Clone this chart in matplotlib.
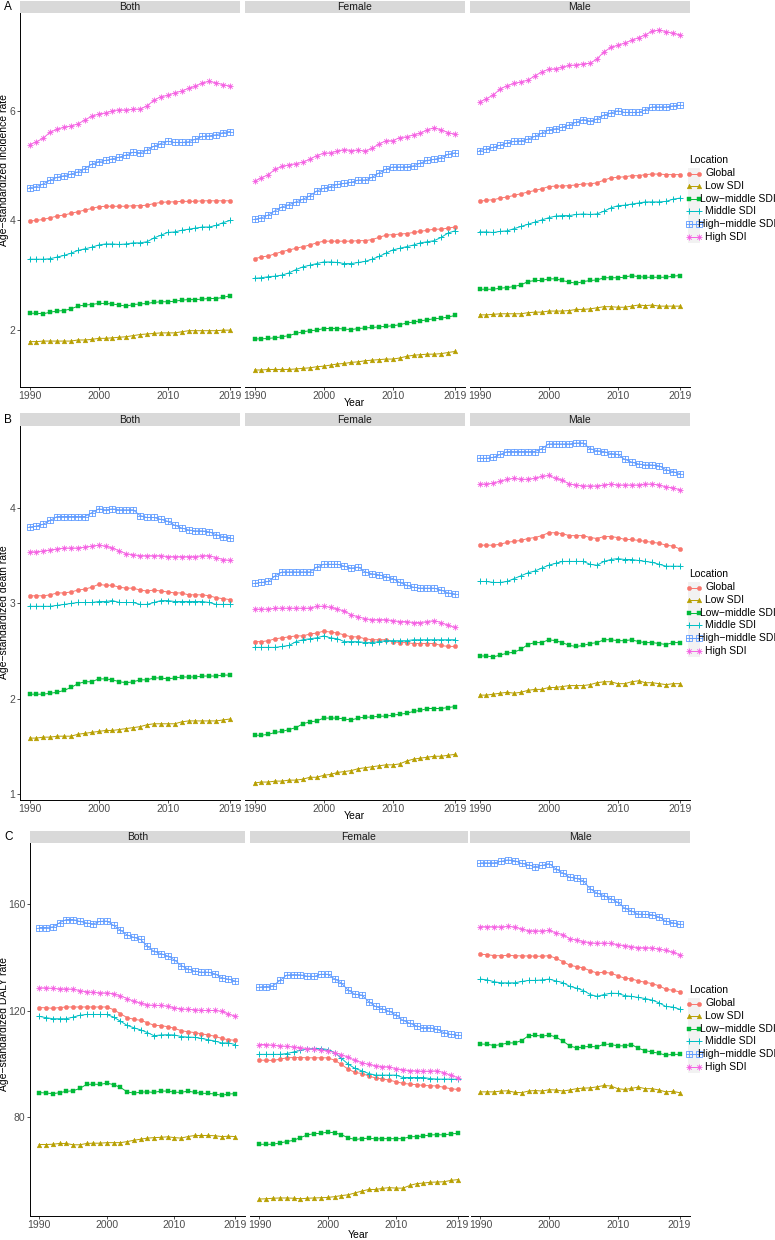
import matplotlib
matplotlib.use("Agg")
import matplotlib.pyplot as plt
from matplotlib.path import Path
import numpy as np

plt.rcParams['font.family'] = ['Liberation Sans', 'DejaVu Sans']

years = list(range(1990, 2020))
locations = ["Global", "Low SDI", "Low\u2212middle SDI", "Middle SDI", "High\u2212middle SDI", "High SDI"]
sexes = ["Both", "Female", "Male"]
x_ticks = [1990, 2000, 2010, 2019]

# ---------------- A: incidence ----------------
inc_both_global = [3.99,4.00,4.02,4.05,4.08,4.10,4.13,4.16,4.19,4.22,4.25,4.26,4.26,4.26,4.26,4.27,4.27,4.28,4.31,4.33,4.34,4.34,4.35,4.35,4.35,4.36,4.36,4.36,4.36,4.36]
inc_both_low = [1.78,1.78,1.79,1.79,1.79,1.79,1.79,1.81,1.81,1.82,1.84,1.84,1.85,1.86,1.87,1.89,1.91,1.92,1.93,1.94,1.94,1.94,1.96,1.98,1.98,1.98,1.98,1.98,1.99,1.99]
inc_both_lm = [2.30,2.30,2.29,2.32,2.34,2.35,2.38,2.43,2.45,2.46,2.48,2.48,2.47,2.45,2.43,2.46,2.47,2.48,2.50,2.51,2.51,2.52,2.54,2.55,2.55,2.56,2.57,2.57,2.59,2.62]
inc_both_mid = [3.29,3.29,3.29,3.30,3.33,3.36,3.40,3.45,3.48,3.51,3.55,3.57,3.57,3.56,3.57,3.59,3.59,3.61,3.68,3.73,3.78,3.79,3.82,3.84,3.86,3.88,3.88,3.91,3.96,4.00]
inc_both_hm = [4.60,4.62,4.67,4.74,4.79,4.82,4.85,4.89,4.95,5.03,5.08,5.10,5.13,5.16,5.20,5.25,5.24,5.29,5.36,5.41,5.45,5.43,5.43,5.44,5.49,5.54,5.55,5.57,5.61,5.63]
inc_both_high = [5.39,5.44,5.51,5.62,5.67,5.71,5.73,5.77,5.84,5.91,5.95,5.97,6.01,6.03,6.02,6.04,6.04,6.10,6.20,6.27,6.29,6.34,6.37,6.42,6.46,6.52,6.55,6.52,6.49,6.46]

inc_female_global = [3.30,3.33,3.35,3.39,3.43,3.46,3.49,3.52,3.55,3.59,3.62,3.62,3.62,3.62,3.62,3.63,3.63,3.65,3.69,3.73,3.74,3.75,3.76,3.78,3.80,3.82,3.84,3.84,3.86,3.88]
inc_female_low = [1.26,1.26,1.27,1.27,1.27,1.27,1.28,1.29,1.30,1.32,1.33,1.35,1.37,1.38,1.40,1.41,1.43,1.44,1.45,1.46,1.46,1.48,1.51,1.53,1.54,1.55,1.55,1.56,1.58,1.60]
inc_female_lm = [1.83,1.83,1.84,1.85,1.87,1.89,1.93,1.96,1.98,1.99,2.02,2.02,2.02,2.01,2.00,2.02,2.03,2.04,2.05,2.06,2.07,2.09,2.12,2.14,2.16,2.18,2.20,2.21,2.23,2.26]
inc_female_mid = [2.94,2.95,2.97,2.98,3.00,3.04,3.10,3.15,3.18,3.21,3.24,3.24,3.23,3.21,3.21,3.23,3.25,3.29,3.34,3.40,3.46,3.49,3.52,3.55,3.59,3.61,3.63,3.69,3.77,3.81]
inc_female_hm = [4.02,4.05,4.10,4.18,4.25,4.29,4.34,4.39,4.45,4.54,4.59,4.62,4.66,4.68,4.70,4.74,4.74,4.79,4.87,4.94,4.98,4.98,4.98,5.00,5.05,5.10,5.12,5.15,5.21,5.24]
inc_female_high = [4.72,4.78,4.84,4.94,4.99,5.02,5.04,5.07,5.12,5.19,5.23,5.24,5.27,5.30,5.28,5.29,5.27,5.32,5.40,5.46,5.46,5.52,5.53,5.57,5.60,5.66,5.70,5.66,5.61,5.58]

inc_male_global = [4.35,4.37,4.38,4.41,4.43,4.46,4.49,4.52,4.55,4.58,4.62,4.63,4.63,4.64,4.65,4.67,4.67,4.69,4.74,4.78,4.79,4.80,4.82,4.82,4.84,4.85,4.85,4.84,4.84,4.84]
inc_male_low = [2.27,2.27,2.28,2.29,2.29,2.29,2.29,2.31,2.32,2.32,2.34,2.34,2.34,2.35,2.37,2.37,2.38,2.40,2.42,2.42,2.41,2.41,2.43,2.45,2.44,2.45,2.43,2.43,2.43,2.43]
inc_male_lm = [2.74,2.74,2.74,2.76,2.77,2.79,2.82,2.88,2.90,2.90,2.93,2.93,2.90,2.87,2.85,2.88,2.90,2.91,2.95,2.95,2.95,2.96,2.99,2.97,2.96,2.96,2.96,2.96,2.98,2.99]
inc_male_mid = [3.79,3.79,3.78,3.80,3.81,3.85,3.89,3.93,3.97,4.01,4.05,4.08,4.09,4.09,4.11,4.12,4.11,4.12,4.17,4.23,4.27,4.28,4.30,4.32,4.34,4.34,4.34,4.35,4.39,4.41]
inc_male_hm = [5.28,5.31,5.34,5.38,5.42,5.45,5.46,5.49,5.54,5.60,5.66,5.68,5.71,5.75,5.80,5.85,5.82,5.86,5.93,5.97,6.01,5.98,5.98,5.98,6.03,6.08,6.08,6.08,6.10,6.11]
inc_male_high = [6.17,6.23,6.30,6.41,6.47,6.51,6.54,6.57,6.65,6.72,6.77,6.78,6.81,6.84,6.85,6.87,6.88,6.96,7.09,7.17,7.21,7.25,7.30,7.35,7.40,7.47,7.49,7.46,7.43,7.40]

# ---------------- B: death ----------------
dth_both_global = [3.08,3.08,3.08,3.09,3.11,3.11,3.12,3.14,3.15,3.17,3.20,3.19,3.19,3.17,3.16,3.16,3.14,3.13,3.14,3.13,3.12,3.11,3.11,3.09,3.09,3.09,3.08,3.06,3.05,3.04]
dth_both_low = [1.59,1.59,1.60,1.60,1.61,1.61,1.61,1.63,1.64,1.65,1.66,1.67,1.67,1.68,1.69,1.70,1.71,1.73,1.74,1.74,1.74,1.74,1.76,1.77,1.77,1.77,1.77,1.77,1.78,1.79]
dth_both_lm = [2.05,2.05,2.05,2.06,2.07,2.09,2.12,2.16,2.18,2.18,2.21,2.21,2.20,2.18,2.17,2.18,2.20,2.20,2.22,2.22,2.21,2.22,2.23,2.23,2.23,2.24,2.24,2.24,2.25,2.25]
dth_both_mid = [2.97,2.97,2.97,2.97,2.98,2.99,3.00,3.01,3.01,3.01,3.02,3.02,3.03,3.01,3.01,3.01,2.99,2.99,3.01,3.03,3.03,3.02,3.02,3.02,3.02,3.02,3.01,2.99,2.99,2.99]
dth_both_hm = [3.80,3.81,3.83,3.87,3.91,3.91,3.91,3.91,3.91,3.95,3.99,3.98,3.99,3.98,3.98,3.98,3.92,3.90,3.90,3.88,3.86,3.82,3.79,3.77,3.76,3.76,3.75,3.72,3.70,3.69]
dth_both_high = [3.54,3.54,3.55,3.56,3.57,3.58,3.58,3.58,3.59,3.60,3.61,3.60,3.58,3.55,3.52,3.51,3.50,3.50,3.50,3.50,3.49,3.49,3.49,3.49,3.49,3.50,3.50,3.48,3.46,3.45]

dth_female_global = [2.60,2.60,2.61,2.63,2.64,2.65,2.66,2.66,2.68,2.69,2.71,2.70,2.69,2.67,2.65,2.65,2.63,2.62,2.62,2.62,2.60,2.59,2.59,2.58,2.58,2.58,2.58,2.56,2.55,2.55]
dth_female_low = [1.12,1.13,1.13,1.14,1.14,1.15,1.15,1.16,1.18,1.18,1.20,1.21,1.23,1.24,1.25,1.27,1.28,1.29,1.30,1.31,1.31,1.32,1.35,1.37,1.38,1.39,1.40,1.40,1.41,1.42]
dth_female_lm = [1.62,1.62,1.63,1.65,1.66,1.68,1.70,1.74,1.76,1.77,1.80,1.80,1.80,1.79,1.78,1.80,1.81,1.81,1.82,1.82,1.83,1.84,1.85,1.87,1.88,1.90,1.90,1.90,1.91,1.92]
dth_female_mid = [2.54,2.54,2.54,2.54,2.55,2.56,2.60,2.62,2.63,2.64,2.66,2.64,2.63,2.60,2.60,2.60,2.59,2.59,2.60,2.61,2.61,2.61,2.61,2.62,2.62,2.62,2.62,2.62,2.62,2.62]
dth_female_hm = [3.21,3.22,3.23,3.29,3.33,3.33,3.33,3.33,3.33,3.38,3.41,3.41,3.41,3.39,3.37,3.38,3.33,3.31,3.30,3.28,3.26,3.22,3.19,3.17,3.16,3.16,3.16,3.14,3.11,3.10]
dth_female_high = [2.94,2.94,2.94,2.95,2.95,2.95,2.95,2.95,2.95,2.97,2.97,2.96,2.94,2.92,2.88,2.86,2.84,2.83,2.83,2.83,2.82,2.81,2.81,2.80,2.80,2.81,2.82,2.80,2.77,2.75]

dth_male_global = [3.61,3.61,3.61,3.62,3.64,3.65,3.66,3.68,3.69,3.71,3.74,3.74,3.73,3.71,3.71,3.71,3.69,3.68,3.70,3.70,3.69,3.67,3.67,3.66,3.65,3.64,3.63,3.61,3.60,3.57]
dth_male_low = [2.04,2.04,2.05,2.06,2.07,2.06,2.07,2.09,2.10,2.10,2.12,2.12,2.13,2.14,2.14,2.14,2.15,2.17,2.18,2.18,2.16,2.16,2.18,2.19,2.17,2.17,2.16,2.15,2.16,2.16]
dth_male_lm = [2.45,2.45,2.44,2.46,2.48,2.49,2.52,2.57,2.59,2.59,2.62,2.61,2.59,2.56,2.55,2.56,2.58,2.59,2.62,2.62,2.61,2.61,2.62,2.60,2.59,2.59,2.58,2.57,2.59,2.59]
dth_male_mid = [3.23,3.23,3.22,3.22,3.23,3.26,3.29,3.32,3.34,3.37,3.40,3.42,3.44,3.44,3.44,3.44,3.41,3.40,3.44,3.46,3.47,3.46,3.46,3.45,3.44,3.43,3.41,3.39,3.39,3.39]
dth_male_hm = [4.52,4.52,4.53,4.56,4.59,4.59,4.59,4.59,4.59,4.62,4.67,4.67,4.67,4.67,4.68,4.68,4.62,4.60,4.59,4.57,4.56,4.51,4.48,4.46,4.45,4.45,4.44,4.40,4.38,4.36]
dth_male_high = [4.25,4.25,4.26,4.28,4.30,4.31,4.30,4.30,4.31,4.33,4.34,4.31,4.29,4.25,4.24,4.23,4.23,4.23,4.24,4.25,4.24,4.24,4.24,4.24,4.25,4.25,4.24,4.22,4.21,4.19]

# ---------------- C: DALY ----------------
daly_both_global = [121.2,121.1,120.9,121.2,121.4,121.4,121.4,121.4,121.4,121.4,121.4,120.4,118.9,117.4,116.8,116.4,115.5,114.5,114.4,114.0,113.4,112.5,112.1,111.8,111.3,110.9,110.4,109.6,109.1,108.9]
daly_both_low = [69.7,69.7,69.8,70.1,70.1,69.6,69.6,70.1,70.2,70.2,70.4,70.4,70.4,70.8,71.3,71.7,72.1,72.3,72.4,72.6,72.3,72.1,72.7,73.1,73.1,73.1,73.0,72.7,72.8,72.7]
daly_both_lm = [89.2,89.1,88.8,89.2,89.7,89.9,90.8,92.3,92.4,92.3,92.8,92.2,91.2,89.5,89.0,89.4,89.5,89.3,89.8,89.8,89.4,89.3,89.8,89.3,89.0,88.9,88.7,88.2,88.7,88.8]
daly_both_mid = [117.9,117.4,117.0,117.0,117.0,117.6,118.3,118.6,118.6,118.6,118.6,117.6,116.1,114.5,113.6,112.8,111.8,110.6,110.9,111.0,110.9,110.3,110.1,110.0,109.6,109.1,108.6,107.9,107.9,107.3]
daly_both_hm = [151.3,151.3,151.5,153.1,154.3,154.3,153.6,153.0,152.7,153.6,153.7,152.1,150.3,148.5,147.6,146.8,144.2,142.3,141.5,140.6,139.1,137.0,135.7,134.9,134.5,134.5,133.9,132.4,131.9,131.2]
daly_both_high = [128.6,128.6,128.4,128.2,128.2,128.1,127.6,127.1,126.9,126.7,126.7,126.4,125.6,124.6,123.5,122.9,122.2,122.0,122.0,121.7,121.1,120.7,120.5,120.4,120.1,120.1,120.1,119.8,118.8,117.9]

daly_female_global = [101.4,101.4,101.3,101.8,102.3,102.4,102.4,102.3,102.3,102.3,102.3,101.4,99.8,98.0,96.8,96.4,95.5,94.7,94.4,93.9,93.3,92.7,92.4,92.2,91.9,91.8,91.7,91.2,90.7,90.4]
daly_female_low = [49.2,49.3,49.5,49.6,49.6,49.5,49.3,49.5,49.6,49.7,49.8,50.1,50.5,50.8,51.5,52.2,52.8,52.8,53.2,53.5,53.3,53.3,54.3,55.0,55.2,55.5,55.6,55.7,56.2,56.5]
daly_female_lm = [69.8,69.8,69.8,70.3,70.8,71.3,72.3,73.3,73.8,73.9,74.4,74.1,73.4,72.2,71.6,71.9,72.1,71.8,71.9,71.9,71.9,71.9,72.6,72.7,72.9,73.3,73.4,73.3,73.7,73.9]
daly_female_mid = [103.6,103.6,103.6,103.6,103.9,104.5,105.1,105.6,105.8,105.8,105.4,104.3,102.1,99.9,98.3,97.4,96.4,95.8,95.8,95.8,95.8,94.9,94.9,94.9,94.9,94.5,94.3,94.3,94.3,94.2]
daly_female_hm = [128.9,129.1,129.4,131.4,133.4,133.6,133.5,133.0,132.9,133.7,133.7,132.0,130.4,127.7,126.2,125.9,123.4,121.6,120.7,119.8,118.4,116.4,115.3,114.3,113.6,113.6,113.0,111.8,111.1,110.8]
daly_female_high = [107.3,107.3,107.0,106.8,106.6,106.4,106.1,105.8,105.5,105.1,104.9,104.3,103.5,102.5,101.3,100.5,99.8,99.3,99.0,98.9,98.2,97.8,97.5,97.4,97.2,97.3,97.4,96.7,95.7,94.9]

daly_male_global = [141.2,141.1,140.7,140.7,140.8,140.7,140.6,140.6,140.5,140.5,140.7,139.7,138.5,137.1,136.6,136.1,135.0,134.2,134.5,134.1,133.2,132.2,132.0,131.2,130.7,130.2,129.4,128.1,127.7,127.1]
daly_male_low = [89.5,89.5,89.5,89.8,89.9,89.3,89.2,89.8,90.0,89.8,90.3,90.2,89.8,90.2,90.7,90.9,91.0,91.4,91.9,91.7,90.7,90.4,90.8,91.3,90.7,90.7,90.2,89.5,89.7,89.2]
daly_male_lm = [107.5,107.4,106.9,107.3,107.9,107.9,108.8,110.6,110.8,110.4,110.9,110.1,108.6,106.8,106.0,106.4,106.6,106.4,107.5,107.3,106.8,106.8,107.3,105.9,105.0,104.5,104.0,103.3,103.6,103.6]
daly_male_mid = [131.9,131.6,130.9,130.5,130.5,130.5,131.0,131.4,131.4,131.6,131.9,131.2,130.6,129.2,128.5,127.6,126.1,125.4,126.1,126.6,126.5,125.7,125.4,125.0,124.6,124.0,123.0,121.6,121.4,120.6]
daly_male_hm = [175.6,175.6,175.6,176.2,176.7,176.4,175.4,174.8,174.2,174.7,175.3,173.3,171.8,170.2,169.8,168.8,165.8,164.2,163.3,162.1,160.8,158.6,157.5,156.3,156.2,156.1,155.3,153.7,153.1,152.5]
daly_male_high = [151.6,151.6,151.6,151.5,151.7,151.5,150.7,150.1,150.0,150.0,150.2,149.3,148.6,147.1,146.6,146.0,145.6,145.3,145.5,145.3,144.8,144.5,144.1,143.7,143.7,143.6,143.2,142.7,142.0,141.1]

inc_data = [
    [inc_both_global, inc_both_low, inc_both_lm, inc_both_mid, inc_both_hm, inc_both_high],
    [inc_female_global, inc_female_low, inc_female_lm, inc_female_mid, inc_female_hm, inc_female_high],
    [inc_male_global, inc_male_low, inc_male_lm, inc_male_mid, inc_male_hm, inc_male_high],
]
dth_data = [
    [dth_both_global, dth_both_low, dth_both_lm, dth_both_mid, dth_both_hm, dth_both_high],
    [dth_female_global, dth_female_low, dth_female_lm, dth_female_mid, dth_female_hm, dth_female_high],
    [dth_male_global, dth_male_low, dth_male_lm, dth_male_mid, dth_male_hm, dth_male_high],
]
daly_data = [
    [daly_both_global, daly_both_low, daly_both_lm, daly_both_mid, daly_both_hm, daly_both_high],
    [daly_female_global, daly_female_low, daly_female_lm, daly_female_mid, daly_female_hm, daly_female_high],
    [daly_male_global, daly_male_low, daly_male_lm, daly_male_mid, daly_male_hm, daly_male_high],
]

# ---------------- styling ----------------
colors = ["#F8766D", "#B79F00", "#00BA38", "#00BFC4", "#619CFF", "#F564E3"]

sqplus = Path([(-1, -1), (1, -1), (1, 1), (-1, 1), (-1, -1), (0, -1), (0, 1), (-1, 0), (1, 0)],
              [Path.MOVETO, Path.LINETO, Path.LINETO, Path.LINETO, Path.CLOSEPOLY,
               Path.MOVETO, Path.LINETO, Path.MOVETO, Path.LINETO])
d = 0.72
aster = Path([(-1, 0), (1, 0), (0, -1), (0, 1), (-d, -d), (d, d), (-d, d), (d, -d)],
             [Path.MOVETO, Path.LINETO] * 4)

mk = [
    dict(marker='o', ms=3.1, mfc=colors[0], mec=colors[0], mew=0.3),
    dict(marker='^', ms=3.4, mfc=colors[1], mec=colors[1], mew=0.3),
    dict(marker='s', ms=2.8, mfc=colors[2], mec=colors[2], mew=0.3),
    dict(marker='+', ms=4.4, mfc='none', mec=colors[3], mew=0.7),
    dict(marker=sqplus, ms=3.8, mfc='none', mec=colors[4], mew=0.6),
    dict(marker=aster, ms=4.4, mfc='none', mec=colors[5], mew=0.6),
]

W, H = 775, 1240
fig = plt.figure(figsize=(W / 100, H / 100), dpi=100)


def rect(l, t, w, h):
    return [l / W, 1 - (t + h) / H, w / W, h / H]


tick_color = "#4D4D4D"
FS = 7.5

panels = [
    dict(letter="A", data=inc_data, top=13.0, bottom=387.0, lefts=[19.5, 244.5, 469.5],
         widths=[220.5, 220.5, 220.5],
         yticks=[2, 4, 6], ylabel="Age\u2212standardized incidence rate", ylab_y=170, year_y=403,
         leg_y=160),
    dict(letter="B", data=dth_data, top=426.0, bottom=800.0, lefts=[19.5, 244.5, 469.5],
         widths=[220.5, 220.5, 220.5],
         yticks=[1, 2, 3, 4], ylabel="Age\u2212standardized death rate", ylab_y=612, year_y=816,
         leg_y=574),
    dict(letter="C", data=daly_data, top=843.0, bottom=1216.0, lefts=[29.5, 249.5, 470.5],
         widths=[215.5, 218.0, 219.0],
         yticks=[80, 120, 160], ylabel="Age\u2212standardized DALY rate", ylab_y=1024, year_y=1235,
         leg_y=990),
]

overlay = fig.add_axes([0, 0, 1, 1])
overlay.set_xlim(0, W)
overlay.set_ylim(H, 0)
overlay.axis('off')
overlay.set_zorder(5)

for p in panels:
    allv = np.concatenate([np.asarray(s, float) for facet in p["data"] for s in facet])
    lo, hi = allv.min(), allv.max()
    pad = 0.05 * (hi - lo)
    ylim = (lo - pad, hi + pad)
    xpad = 0.05 * (years[-1] - years[0])
    xlim = (years[0] - xpad, years[-1] + xpad)
    ph = p["bottom"] - p["top"]
    strip_h = 12.5
    for j, sex in enumerate(sexes):
        l = p["lefts"][j]
        w = p["widths"][j]
        ax = fig.add_axes(rect(l, p["top"], w, ph))
        for k in range(len(locations)):
            ax.plot(years, p["data"][j][k], color=colors[k], lw=0.7, clip_on=False, **mk[k])
        ax.set_xlim(*xlim)
        ax.set_ylim(*ylim)
        ax.set_xticks(x_ticks)
        ax.set_xticklabels([str(t) for t in x_ticks])
        ax.set_yticks(p["yticks"])
        for s in ["top", "right"]:
            ax.spines[s].set_visible(False)
        ax.spines["bottom"].set_color("black")
        ax.spines["bottom"].set_linewidth(0.7)
        ax.tick_params(axis='both', colors="#333333", labelcolor=tick_color, labelsize=FS,
                       length=2.2, width=0.6, pad=0.8)
        if j == 0:
            ax.spines["left"].set_color("black")
            ax.spines["left"].set_linewidth(0.7)
        else:
            ax.spines["left"].set_visible(False)
            ax.tick_params(axis='y', left=False, labelleft=False)
        ax.set_facecolor('none')
        # strip
        sax = fig.add_axes(rect(l, p["top"] - strip_h, w, strip_h))
        sax.set_xticks([])
        sax.set_yticks([])
        for s in sax.spines.values():
            s.set_visible(False)
        sax.set_facecolor("#D9D9D9")
        sax.text(0.5, 0.45, sex, ha='center', va='center', fontsize=FS, color="#1A1A1A",
                 transform=sax.transAxes)
    # panel letter
    overlay.text(4, p["top"] - strip_h + 6.5, p["letter"], fontsize=8.5, ha='left', va='center', color='black')
    # y label
    overlay.text(4.0, p["ylab_y"], p["ylabel"], rotation=90, ha='center', va='center', fontsize=FS,
                 color='black')
    # x label
    mid_l = p["lefts"][1] + p["widths"][1] / 2
    overlay.text(mid_l, p["year_y"], "Year", ha='center', va='center', fontsize=FS, color='black')
    # legend
    ly = p["leg_y"]
    overlay.text(689, ly, "Location", ha='left', va='center', fontsize=FS, color='black')
    gap = 12.6
    first = ly + 13.5
    overlay.add_patch(plt.Rectangle((688, first - 6), 12, gap * 5 + 12, facecolor="#F2F2F2",
                                    edgecolor='none'))
    text_x = [705, 705, 699.5, 705, 697.5, 705]
    for k, name in enumerate(locations):
        yy = first + k * gap
        overlay.plot([689, 699], [yy, yy], color=colors[k], lw=0.7, **mk[k])
        overlay.text(text_x[k], yy, name, ha='left', va='center', fontsize=FS, color='black')

fig.savefig("out.png", dpi=100)
